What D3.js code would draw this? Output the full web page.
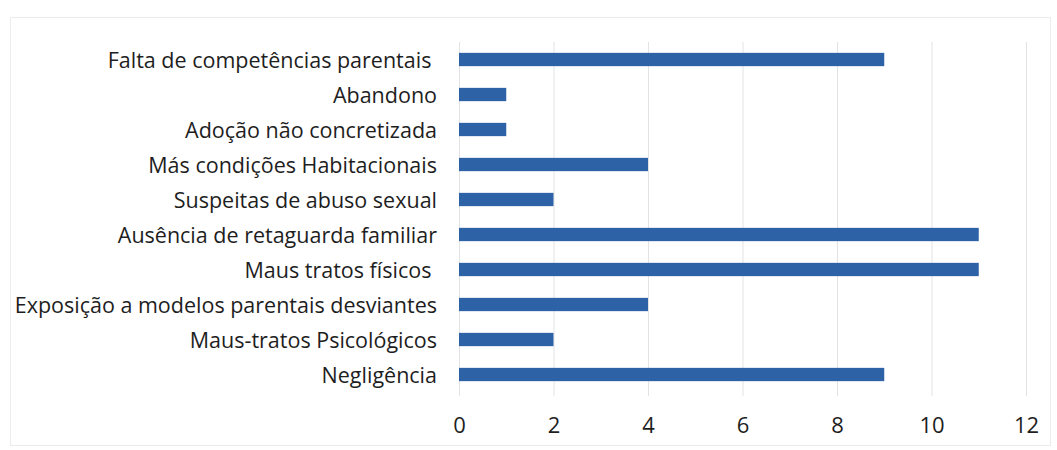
<!DOCTYPE html>
<html>
<head>
<meta charset="utf-8">
<script src="https://cdn.jsdelivr.net/npm/d3@7/dist/d3.min.js"></script>
<style>
  html, body { margin: 0; padding: 0; background: #fff; }
  svg { display: block; }
  text { font-family: "Open Sans", "Noto Sans", sans-serif; fill: #1e1e1e; white-space: pre; }
</style>
</head>
<body>
<svg id="chart" width="1057" height="450"></svg>
<script>
const categories = [
  "Falta de competências parentais ",
  "Abandono",
  "Adoção não concretizada",
  "Más condições Habitacionais",
  "Suspeitas de abuso sexual",
  "Ausência de retaguarda familiar",
  "Maus tratos físicos ",
  "Exposição a modelos parentais desviantes",
  "Maus-tratos Psicológicos",
  "Negligência"
];
const values = [9, 1, 1, 4, 2, 11, 11, 4, 2, 9];
const tickValues = [0, 2, 4, 6, 8, 10, 12];

const svg = d3.select("#chart");
const margin = { left: 459, right: 1026, top: 42, bottom: 392 };

// chart frame
svg.append("rect")
  .attr("x", 10.5).attr("y", 17.5)
  .attr("width", 1040).attr("height", 428)
  .attr("fill", "none").attr("stroke", "#ececec").attr("stroke-width", 1);

const x = d3.scaleLinear().domain([0, 12]).range([margin.left, margin.right]);
const y = d3.scaleBand().domain(categories).range([margin.top, margin.bottom]).paddingInner(0.62).paddingOuter(0.31);

// gridlines
svg.append("g")
  .selectAll("line")
  .data(tickValues)
  .join("line")
  .attr("x1", d => x(d) + 0.5).attr("x2", d => x(d) + 0.5)
  .attr("y1", margin.top).attr("y2", margin.bottom + 4)
  .attr("stroke", "#e3e3e3").attr("stroke-width", 1);

// bars
svg.append("g")
  .selectAll("rect")
  .data(values)
  .join("rect")
  .attr("x", x(0))
  .attr("y", (d, i) => y(categories[i]))
  .attr("width", d => x(d) - x(0))
  .attr("height", y.bandwidth())
  .attr("fill", "#2e62a7");

// category labels
const yAxis = d3.axisLeft(y).tickSize(0).tickPadding(0);
const gy = svg.append("g").attr("transform", `translate(437,2)`).call(yAxis);
gy.select(".domain").remove();
gy.attr("font-size", null).attr("font-family", null);
gy.selectAll("text")
  .style("font-size", "21.5px")
  .style("font-family", "\"Open Sans\", sans-serif")
  .style("fill", "#1e1e1e")
  .style("white-space", "pre");

// x axis labels
const xAxis = d3.axisBottom(x).tickValues(tickValues).tickSize(0).tickPadding(0).tickFormat(d3.format("d"));
const gx = svg.append("g").attr("transform", `translate(0,417)`).call(xAxis);
gx.select(".domain").remove();
gx.attr("font-size", null).attr("font-family", null);
gx.selectAll("text")
  .style("font-size", "22px")
  .style("font-family", "\"Open Sans\", sans-serif")
  .style("fill", "#1e1e1e");
</script>
</body>
</html>
